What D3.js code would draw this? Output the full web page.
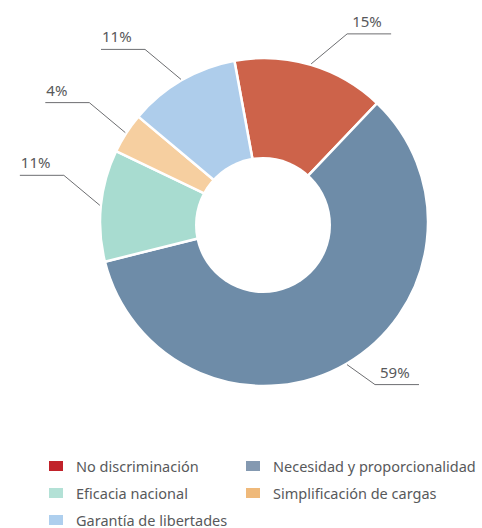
<!DOCTYPE html>
<html lang='es'>
  <head>
    <meta charset='utf-8'>
    <title>Donut</title>
    <script src='https://d3js.org/d3.v7.min.js'></script>
    <style>
      html, body { margin: 0; padding: 0; background: #fff; }
      text { font-family: 'Noto Sans', sans-serif; fill: #58595b; }
    </style>
  </head>
  <body>
    <div class='vis'></div>
    <script>
      // data
      const categories = ['No discriminación', 'Necesidad y proporcionalidad', 'Eficacia nacional', 'Simplificación de cargas', 'Garantía de libertades'];
      const values = [15, 59, 11, 4, 11];
      const labels = ['15%', '59%', '11%', '4%', '11%'];

      // colours: slices and legend swatches differ slightly in the original
      const sliceColors = ['#cd634a', '#6e8ca8', '#a8dcd0', '#f6cfa0', '#aecdeb'];
      const legendColors = ['#c1222a', '#8499b1', '#b3e1d6', '#efb97a', '#aecfee'];

      const width = 482, height = 528;
      const cx = 264, cy = 222;
      const outerR = 164, innerR = 68;
      const startA = -10.4 * Math.PI / 180;

      const svg = d3.select('.vis')
        .append('svg')
          .attr('width', width)
          .attr('height', height);

      const pie = d3.pie()
        .sort(null)
        .startAngle(startA)
        .endAngle(startA + 2 * Math.PI);

      const arcs = pie(values);

      const arc = d3.arc()
        .innerRadius(innerR - 8)
        .outerRadius(outerR);

      const g = svg.append('g')
        .attr('transform', 'translate(' + cx + ',' + cy + ')');

      g.selectAll('path')
        .data(arcs)
        .enter().append('path')
          .attr('d', arc)
          .attr('fill', (d, i) => sliceColors[i])
          .attr('stroke', '#fff')
          .attr('stroke-width', 2.5);

      // hole sits a touch below the pie centre
      g.append('circle')
        .attr('cx', -1)
        .attr('cy', 3)
        .attr('r', innerR)
        .attr('fill', '#fff');

      // leader lines + labels
      const segLen = 44;
      arcs.forEach((d, i) => {
        const mid = (d.startAngle + d.endAngle) / 2;
        const sx = Math.sin(mid) * (outerR + 1);
        const sy = -Math.cos(mid) * (outerR + 1);
        const side = Math.sin(mid) >= 0 ? 1 : -1;
        const down = -Math.cos(mid) >= 0;
        const ex = sx + side * (down ? 28 : 36);
        const ey = sy + (down ? 20 : -30);
        const hx = ex + side * segLen;

        g.append('polyline')
          .attr('points', [[sx, sy], [ex, ey], [hx, ey]].map(p => p.join(',')).join(' '))
          .attr('fill', 'none')
          .attr('stroke', '#6d6e71')
          .attr('stroke-width', 1);

        g.append('text')
          .attr('x', side > 0 ? ex + 5 : hx + 1)
          .attr('y', ey - 7)
          .style('font-size', '15px')
          .text(labels[i]);
      });

      // legend
      const legend = svg.append('g')
        .attr('transform', 'translate(49, 461)');

      const item = legend.selectAll('g')
        .data(categories)
        .enter().append('g')
          .attr('transform', (d, i) => 'translate(' + (i % 2) * 197 + ',' + Math.floor(i / 2) * 27 + ')');

      item.append('rect')
        .attr('width', 14)
        .attr('height', 10)
        .attr('fill', (d, i) => legendColors[i]);

      item.append('text')
        .attr('x', 27)
        .attr('y', 10.5)
        .style('font-size', '14.5px')
        .text(d => d);
    </script>
  </body>
</html>
